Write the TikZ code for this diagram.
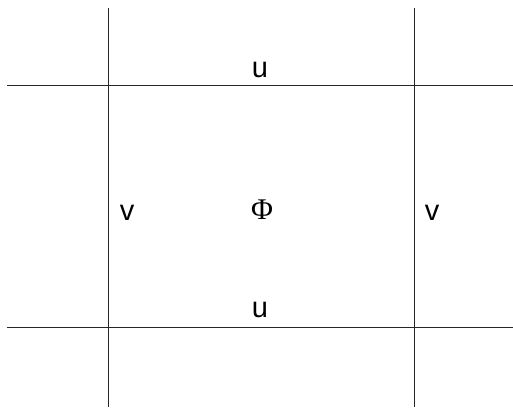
\documentclass[tikz,border=0pt]{standalone}
\usepackage{fontspec}
\setmainfont{Liberation Sans}
\newfontfamily\phifont{Liberation Serif}
\begin{document}
\begin{tikzpicture}[x=1pt,y=1pt,
  gridline/.style={line width=1pt,black!85},
  lbl/.style={font=\fontsize{29}{29}\selectfont,inner sep=0pt}]
\useasboundingbox (0,0) rectangle (513,407);
\coordinate (l1) at (108,399);
\coordinate (l2) at (108,0);
\coordinate (r1) at (414,399);
\coordinate (r2) at (414,0);
\coordinate (t1) at (7,321);
\coordinate (t2) at (513,321);
\coordinate (b1) at (7,80);
\coordinate (b2) at (513,80);
\draw[gridline] (l1) -- (l2);
\draw[gridline] (r1) -- (r2);
\draw[gridline] (t1) -- (t2);
\draw[gridline] (b1) -- (b2);
\node[lbl,anchor=base] (ut) at (260,329) {u};
\node[lbl,anchor=base] (ub) at (260,90) {u};
\node[lbl,anchor=base] (vl) at (127,186) {v};
\node[lbl,anchor=base] (vr) at (432,186) {v};
\node[lbl,anchor=base,font=\fontsize{30}{30}\selectfont\phifont] (phi) at (262,187) {Φ};
\end{tikzpicture}
\end{document}
